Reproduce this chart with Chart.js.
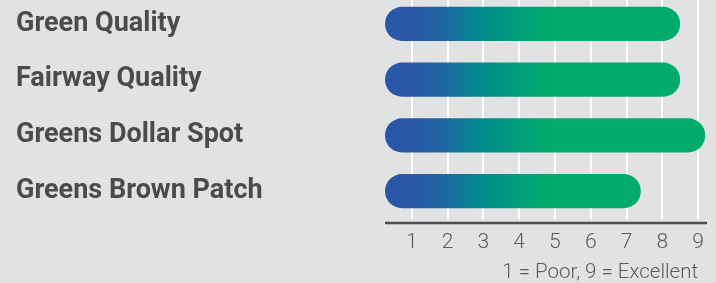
<!DOCTYPE html>
<html>
<head>
<meta charset="utf-8">
<script src="https://cdn.jsdelivr.net/npm/chart.js@4/dist/chart.umd.min.js"></script>
<style>
  html, body { margin: 0; padding: 0; background: #e1e2e4; overflow: hidden; }
  /* canvas starts a little above the page so the grid runs off the top edge */
  #wrap { width: 716px; height: 287px; position: relative; top: -4px; }
</style>
</head>
<body>
<div id="wrap"><canvas id="chart"></canvas></div>
<script>
const categories = ['Green Quality', 'Fairway Quality', 'Greens Dollar Spot', 'Greens Brown Patch'];
const ratings = [8.5, 8.5, 9.2, 7.4];
const tickValues = [1, 2, 3, 4, 5, 6, 7, 8, 9];
const scaleNote = '1 = Poor, 9 = Excellent';
const axisMin = 0.25;
const axisMax = 9.25;

let gradCache = null;
let gradKey = '';
const barGradient = (ctx) => {
  const area = ctx.chart.chartArea;
  if (!area) return '#00ab6b';
  const key = area.left + ':' + area.right;
  if (gradCache && gradKey === key) return gradCache;
  const g = ctx.chart.ctx.createLinearGradient(area.left, 0, area.right, 0);
  g.addColorStop(0, '#2957a8');
  g.addColorStop(0.09, '#2a57a8');
  g.addColorStop(0.19, '#1b69a0');
  g.addColorStop(0.295, '#008a8e');
  g.addColorStop(0.42, '#00a07a');
  g.addColorStop(0.53, '#00ab6b');
  g.addColorStop(1, '#00ab6b');
  gradCache = g;
  gradKey = key;
  return g;
};

// dark axis line sits a few px below the end of the white grid lines,
// plus the rating note under the tick labels
const axisExtras = {
  id: 'axisExtras',
  afterDraw(chart) {
    const { ctx, chartArea } = chart;
    const x = chart.scales.x;
    ctx.save();
    ctx.strokeStyle = '#4d4e50';
    ctx.lineWidth = 2.5;
    ctx.beginPath();
    ctx.moveTo(chartArea.left, chartArea.bottom + 4);
    ctx.lineTo(chartArea.right, chartArea.bottom + 4);
    ctx.stroke();
    ctx.fillStyle = '#5a5b5d';
    ctx.font = '300 20.5px Roboto';
    ctx.textAlign = 'right';
    ctx.textBaseline = 'middle';
    ctx.fillText(scaleNote, x.getPixelForValue(tickValues[tickValues.length - 1]), chartArea.bottom + 54);
    ctx.restore();
  }
};

new Chart(document.getElementById('chart'), {
  type: 'bar',
  data: {
    labels: categories,
    datasets: [{
      data: ratings.map(v => [axisMin, v]),
      backgroundColor: barGradient,
      borderRadius: 20,
      borderSkipped: false,
      barPercentage: 0.61,
      categoryPercentage: 1
    }]
  },
  options: {
    indexAxis: 'y',
    responsive: true,
    maintainAspectRatio: false,
    animation: false,
    layout: { padding: { top: 0, left: 16, right: 9, bottom: 0 } },
    plugins: {
      legend: { display: false },
      tooltip: { enabled: false }
    },
    scales: {
      x: {
        min: axisMin,
        max: axisMax,
        afterBuildTicks: s => { s.ticks = tickValues.map(v => ({ value: v })); },
        afterFit: s => { s.height = 64; },
        grid: { color: '#ffffff', lineWidth: 2, drawTicks: false },
        border: { display: false },
        ticks: {
          padding: 11,
          color: '#5a5b5d',
          font: { family: 'Roboto', size: 21, weight: '300' }
        }
      },
      y: {
        afterFit: s => { s.width = 369; s.paddingTop = 0; s.paddingBottom = 0; },
        grid: { display: false },
        border: { display: false },
        ticks: {
          crossAlign: 'far',
          padding: 0,
          color: '#4a4b4d',
          font: { family: 'Roboto', size: 27, weight: 'bold' }
        }
      }
    }
  },
  plugins: [axisExtras]
});
</script>
</body>
</html>
